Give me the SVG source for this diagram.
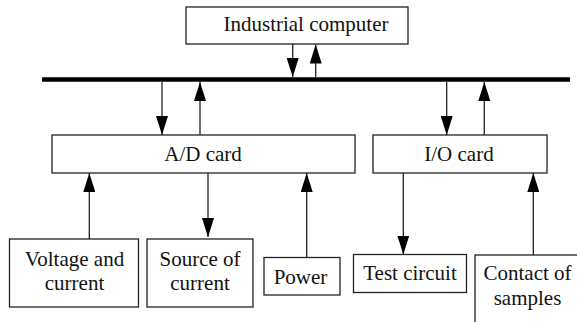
<svg xmlns="http://www.w3.org/2000/svg" width="577" height="322" viewBox="0 0 577 322">
<style>
.box{fill:#fff;stroke:#222;stroke-width:1.3}
.t{font-family:'Liberation Serif','Times New Roman','DejaVu Serif',serif;font-size:21px;fill:#111;text-anchor:middle}
.c{stroke:#222;stroke-width:1.3;fill:none;marker-end:url(#ah)}
</style>
<defs>
<marker id="ah" markerUnits="userSpaceOnUse" markerWidth="19" markerHeight="12" refX="19" refY="6" orient="auto">
<path d="M0,0 L19,6 L0,12 z" fill="#000"/>
</marker>
</defs>
<rect width="577" height="322" fill="#fff"/>
<g id="bus"><line x1="42" y1="79.6" x2="570" y2="79.6" stroke="#000" stroke-width="4.5"/></g>
<g id="computer"><rect class="box" x="186" y="7" width="222" height="37"/><text class="t" font-family="Liberation Serif, serif" x="306" y="31">Industrial computer</text></g>
<g id="ad"><rect class="box" x="52" y="135" width="303" height="38"/><text class="t" x="203" y="161">A/D card</text></g>
<g id="io"><rect class="box" x="373" y="135" width="174" height="38"/><text class="t" x="459" y="161">I/O card</text></g>
<g id="voltage"><rect class="box" x="9.5" y="239" width="129" height="68"/><text class="t" x="74.5" y="266">Voltage and</text><text class="t" x="74.5" y="290">current</text></g>
<g id="source"><rect class="box" x="147" y="239" width="106" height="68"/><text class="t" x="200" y="266">Source of</text><text class="t" x="200" y="290">current</text></g>
<g id="power"><rect class="box" x="264" y="257.5" width="76" height="37.5"/><text class="t" x="300.5" y="283.5">Power</text></g>
<g id="test"><rect class="box" x="353.5" y="254.5" width="113" height="38"/><text class="t" x="410" y="280">Test circuit</text></g>
<g id="contact"><rect class="box" x="475" y="255" width="120" height="90"/><text class="t" x="527.5" y="280">Contact of</text><text class="t" x="527.5" y="305">samples</text></g>
<g id="connectors">
<line class="c" x1="292.7" y1="44" x2="292.7" y2="77"/>
<line class="c" x1="315.7" y1="77.5" x2="315.7" y2="44.5"/>
<line class="c" x1="162" y1="82" x2="162" y2="135"/>
<line class="c" x1="200" y1="135" x2="200" y2="82"/>
<line class="c" x1="446.7" y1="82" x2="446.7" y2="135"/>
<line class="c" x1="484.3" y1="135" x2="484.3" y2="82"/>
<line class="c" x1="89.3" y1="239" x2="89.3" y2="173"/>
<line class="c" x1="208" y1="173" x2="208" y2="237"/>
<line class="c" x1="306.7" y1="257.5" x2="306.7" y2="173"/>
<line class="c" x1="403.3" y1="173" x2="403.3" y2="254.5"/>
<line class="c" x1="533.3" y1="255" x2="533.3" y2="173"/>
</g>
</svg>
